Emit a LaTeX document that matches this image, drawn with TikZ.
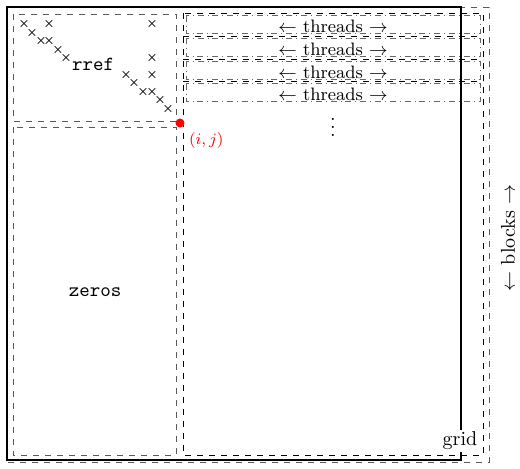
\documentclass[tikz,border=0pt]{standalone}
\usepackage{amsmath}
\usepackage{amsfonts}
\usepackage{tikz}
\usetikzlibrary{positioning,calc}
\tikzset{cellbox/.style={black!65,dashed},
  lane/.style={black!60,dashdotted},
  entry/.style={inner sep=0pt,font=\fontsize{4.5}{5}\selectfont}}

\begin{document}
\begin{tikzpicture}[x=0.5pt,y=-0.5pt]
		\useasboundingbox (0,0) rectangle (520,468);
		\draw[cellbox] (7,7) rectangle (489,462);
		\draw[line width=0.8pt] (7,7) rectangle (461,460);
		\node[fill=white,inner sep=1pt] (grid) at (460,441) {grid};
		\node[rotate=90] (blocks) at (508,238) {$\leftarrow$ blocks $\rightarrow$};
		\draw[cellbox] (13,14) rectangle (176,121);
		\draw[cellbox] (13,127) rectangle (176,455);
		\node (rref) at (93,64) {\texttt{rref}};
		\node (zeros) at (95,292) {\texttt{zeros}};
		\foreach \x/\y in {24/24,49/24,152/24,32/33,41/41,49/41,58/50,66/58,152/58,126/75,152/75,134/83,143/92,152/92,160/100,168/109}
			\node[entry] at (\x,\y) {$\boldsymbol{\times}$};
		\draw[dashed] (183,13) rectangle (483,455);
		\foreach \k in {0,...,3} {
			\draw[lane] (186,{15.5+22.7*\k}) rectangle (480,{33.7+22.7*\k});
			\node[font=\small] (row\k) at (333,{26.5+22.7*\k}) {$\leftarrow$ threads $\rightarrow$};
		}
		\foreach \k in {1,2,3}
			\draw[dashed] (183,{13.5+22.7*\k}) -- (483,{13.5+22.7*\k});
		\node (more) at (333,121) {$\vdots$};
		\fill[red] (180,123) coordinate (pivot) circle (2.25pt);
		\node[red,font=\footnotesize,below right=1pt and 1pt of pivot] (pivotlabel) {$(i,j)$};
		\end{tikzpicture}
\end{document}
